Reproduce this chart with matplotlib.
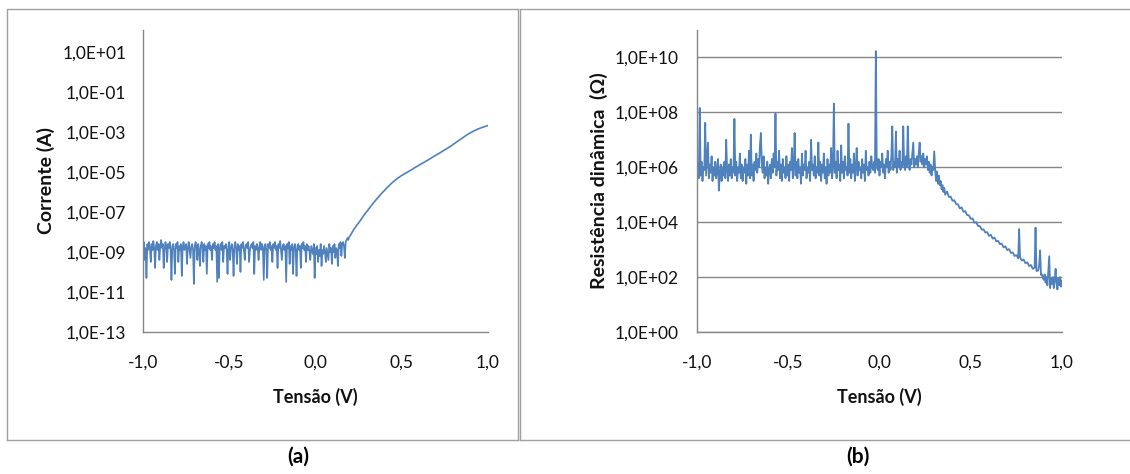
import numpy as np
import matplotlib
matplotlib.use("Agg")
import matplotlib.pyplot as plt
from matplotlib.lines import Line2D
from matplotlib.ticker import FixedLocator, FuncFormatter

plt.rcParams['font.family'] = ['Lato', 'DejaVu Sans']

# --- (a) corrente, log10(I / A) ---
# noise floor, sweep -1.0 .. 0.195 V in 5 mV steps
a_noise_log = [
    -8.7, -8.5, -9.4, -8.8, -10.3, -8.6, -8.9, -8.5, -8.8, -9.5,
    -8.6, -8.9, -8.45, -8.8, -9.8, -8.7, -8.5, -8.9, -8.6, -9.4,
    -8.7, -8.4, -8.8, -8.6, -9.8, -8.9, -8.5, -8.7, -9.5, -8.6,
    -8.8, -8.5, -8.9, -10.4, -8.7, -8.6, -8.9, -10.1, -8.6, -8.8,
    -8.5, -9.5, -8.7, -8.9, -8.6, -10.2, -8.8, -8.5, -8.9, -8.7,
    -8.6, -9.6, -8.8, -8.5, -8.9, -9.3, -8.7, -8.6, -8.9, -10.6,
    -8.7, -8.5, -8.8, -9.4, -8.6, -8.9, -9.7, -8.7, -8.5, -8.8,
    -9.5, -8.6, -8.9, -8.7, -10.1, -8.6, -8.8, -8.5, -8.9, -8.7,
    -9.4, -8.6, -8.8, -8.5, -8.9, -8.7, -10.5, -8.6, -10.3, -8.8,
    -8.6, -8.9, -8.5, -9.5, -8.7, -8.8, -8.6, -8.9, -10.1, -8.7,
    -8.5, -9.4, -8.8, -8.6, -8.9, -10.2, -8.7, -8.5, -8.8, -9.6,
    -8.6, -8.9, -8.7, -10.0, -8.6, -8.8, -8.5, -8.9, -9.4, -8.7,
    -8.6, -8.8, -8.5, -9.5, -8.9, -8.7, -8.6, -8.8, -8.5, -10.1,
    -8.7, -8.9, -8.6, -8.8, -9.4, -8.7, -8.5, -8.9, -8.6, -8.8,
    -10.4, -8.7, -8.6, -8.9, -10.3, -8.6, -8.8, -8.5, -8.9, -8.7,
    -9.5, -8.6, -8.8, -8.5, -8.9, -8.7, -9.8, -8.6, -8.8, -8.45,
    -8.9, -9.4, -8.7, -8.6, -8.9, -8.7, -10.5, -8.6, -8.8, -8.5,
    -9.6, -8.7, -8.9, -8.6, -10.1, -8.8, -8.6, -8.9, -10.2, -8.7,
    -8.6, -8.9, -8.7, -9.8, -8.6, -8.8, -8.5, -8.9, -8.7, -9.5,
    -8.6, -8.9, -8.7, -9.0, -9.4, -8.7, -8.9, -9.1, -8.6, -10.3,
    -8.8, -9.1, -8.7, -9.5, -8.9, -9.2, -8.6, -9.7, -8.9, -9.1,
    -8.7, -9.0, -9.5, -8.8, -9.1, -9.4, -8.6, -9.0, -8.8, -9.6,
    -8.7, -9.0, -8.6, -9.3, -8.8, -8.9, -9.7, -8.6, -8.8, -8.5,
    -9.2, -8.6, -8.5, -8.7, -9.3, -8.5, -8.4, -8.3, -8.4, -8.25,
]
# conduction branch
a_rise_v = [0.20, 0.21, 0.22, 0.23, 0.24, 0.25, 0.26, 0.27, 0.28, 0.29,
            0.30, 0.32, 0.34, 0.36, 0.38, 0.40, 0.42, 0.44, 0.46, 0.48,
            0.50, 0.52, 0.54, 0.56, 0.58, 0.60, 0.62, 0.64, 0.66, 0.68,
            0.70, 0.72, 0.74, 0.76, 0.78, 0.80, 0.82, 0.84, 0.86, 0.88,
            0.90, 0.92, 0.94, 0.96, 0.98, 1.00]
a_rise_log = [-8.2, -8.05, -7.9, -7.78, -7.65, -7.55, -7.42, -7.3, -7.17, -7.05,
              -6.95, -6.72, -6.5, -6.3, -6.1, -5.92, -5.74, -5.57, -5.42, -5.29,
              -5.17, -5.07, -4.97, -4.87, -4.76, -4.66, -4.56, -4.46, -4.36, -4.25,
              -4.15, -4.05, -3.94, -3.84, -3.73, -3.61, -3.49, -3.37, -3.25, -3.13,
              -3.03, -2.94, -2.86, -2.79, -2.73, -2.68]

# --- (b) resistencia dinamica, log10(R / ohm) ---
# sweep -1.0 .. 0.30 V in 5 mV steps
b_noise_log = [
    5.8, 6.1, 5.6, 8.16, 5.7, 6.2, 5.5, 6.0, 5.9, 7.62,
    5.7, 6.3, 6.9, 5.6, 6.1, 5.8, 6.4, 5.5, 6.0, 5.7,
    6.2, 5.6, 5.9, 6.3, 5.15, 5.8, 6.1, 5.5, 6.0, 5.7,
    6.2, 5.6, 7.0, 5.9, 5.5, 6.1, 5.7, 6.3, 5.6, 6.0,
    5.8, 7.76, 5.7, 6.2, 5.5, 6.0, 5.8, 6.5, 5.6, 6.1,
    5.5, 6.0, 5.8, 6.3, 5.4, 6.1, 5.7, 6.6, 5.6, 7.19,
    5.7, 6.1, 5.5, 6.2, 5.9, 6.5, 5.8, 6.3, 6.0, 6.8,
    7.25, 6.1, 5.8, 6.4, 5.6, 6.0, 5.7, 6.2, 5.4, 5.9,
    6.1, 5.6, 6.3, 5.8, 6.5, 6.0, 7.96, 5.7, 6.2, 5.9,
    6.6, 5.6, 6.1, 5.5, 6.3, 5.8, 6.0, 5.6, 6.4, 5.7,
    6.1, 5.5, 6.2, 5.9, 6.7, 5.6, 6.0, 7.25, 5.7, 6.2,
    5.6, 6.3, 5.8, 6.0, 5.4, 6.5, 5.7, 6.1, 5.9, 6.6,
    5.6, 6.0, 5.8, 6.2, 5.5, 7.0, 5.9, 6.1, 5.7, 6.4,
    5.6, 6.0, 5.8, 6.9, 5.7, 6.2, 5.5, 6.1, 5.8, 6.5,
    5.6, 6.0, 5.4, 6.3, 5.7, 6.1, 5.8, 6.7, 5.6, 6.0,
    8.32, 5.8, 6.2, 5.6, 6.6, 5.9, 6.1, 5.5, 6.8, 5.8,
    6.2, 5.6, 6.4, 5.9, 6.0, 5.7, 7.59, 5.8, 6.3, 5.6,
    6.1, 5.8, 6.5, 5.5, 6.0, 6.7, 5.7, 6.2, 5.9, 6.0,
    5.6, 6.3, 5.8, 6.1, 5.5, 6.6, 5.9, 6.0, 5.7, 6.2,
    5.8, 6.4, 6.0, 5.9, 6.2, 5.8, 10.23, 6.1, 5.9, 6.3,
    5.7, 6.2, 6.0, 6.5, 5.8, 6.1, 5.6, 6.3, 6.0, 6.6,
    5.8, 6.2, 5.9, 6.4, 7.49, 5.9, 6.2, 6.0, 7.3, 5.8,
    6.3, 6.0, 6.6, 5.9, 6.2, 6.0, 7.49, 6.1, 5.9, 6.4,
    6.0, 7.49, 6.2, 5.9, 6.3, 6.1, 6.5, 6.9, 6.0, 6.3,
    6.1, 6.4, 6.0, 6.5, 6.9, 6.2, 6.4, 6.1, 6.5, 6.0,
    6.3, 6.1, 6.4, 5.9, 6.2, 5.8, 6.1, 5.7, 6.0, 5.9,
    6.58,
]
b_decay_v = [0.305, 0.31, 0.315, 0.32, 0.325, 0.33, 0.335, 0.34, 0.345, 0.35,
             0.355, 0.36, 0.37, 0.38, 0.39, 0.40, 0.41, 0.42, 0.43, 0.44,
             0.45, 0.46, 0.47, 0.48, 0.49, 0.50, 0.51, 0.52, 0.53, 0.54,
             0.55, 0.56, 0.57, 0.58, 0.59, 0.60, 0.61, 0.62, 0.63, 0.64,
             0.65, 0.66, 0.67, 0.68, 0.69, 0.70, 0.71, 0.72, 0.73, 0.74,
             0.75, 0.76, 0.765, 0.77, 0.78, 0.79, 0.80, 0.81, 0.82, 0.83,
             0.84, 0.85, 0.855, 0.86, 0.87, 0.875, 0.88, 0.885, 0.89, 0.895,
             0.90, 0.905, 0.91, 0.915, 0.92, 0.925, 0.93, 0.935, 0.94, 0.945,
             0.95, 0.955, 0.96, 0.965, 0.97, 0.975, 0.98, 0.985, 0.99, 0.995,
             1.00]
b_decay_log = [5.9, 5.5, 5.85, 5.4, 5.7, 5.35, 5.5, 5.2, 5.35, 5.1,
               5.25, 5.0, 5.12, 4.92, 4.93, 4.78, 4.8, 4.66, 4.65, 4.5,
               4.54, 4.38, 4.4, 4.26, 4.25, 4.12, 4.14, 3.98, 4.0, 3.86,
               3.86, 3.73, 3.74, 3.62, 3.64, 3.5, 3.54, 3.4, 3.44, 3.3,
               3.32, 3.2, 3.22, 3.08, 3.12, 2.98, 3.02, 2.88, 2.9, 2.77,
               2.8, 2.68, 3.75, 2.72, 2.6, 2.64, 2.5, 2.54, 2.4, 2.44,
               2.3, 2.34, 3.8, 2.22, 2.24, 2.45, 2.97, 2.08, 2.1, 1.98,
               1.9, 2.1, 1.8, 2.0, 1.7, 2.2, 2.76, 1.6, 1.95, 1.75,
               2.0, 1.6, 1.9, 2.3, 1.75, 1.55, 1.95, 1.7, 2.0, 1.65,
               1.85]

x_ticks = [-1.0, -0.5, 0.0, 0.5, 1.0]
a_yticks_exp = [-13, -11, -9, -7, -5, -3, -1, 1]
b_yticks_exp = [0, 2, 4, 6, 8, 10]

LINE = "#4f81bd"
AXIS = "#868686"
W, H = 1130, 474


def px_axes(x0, y0, x1, y1):
    # pixel box (top-left origin) -> figure fraction rect
    return [x0 / W, 1 - y1 / H, (x1 - x0) / W, (y1 - y0) / H]


def style_axes(ax, exps, ylim_top, ylabel, label_x, ypad, grid):
    ax.set_yscale("log")
    ax.set_xlim(-1, 1)
    ax.set_ylim(10.0 ** exps[0], 10.0 ** ylim_top)
    ax.xaxis.set_major_locator(FixedLocator(x_ticks))
    ax.xaxis.set_major_formatter(FuncFormatter(lambda v, p: f"{v:.1f}".replace(".", ",")))
    ax.yaxis.set_major_locator(FixedLocator([10.0 ** e for e in exps]))
    ax.yaxis.set_major_formatter(FuncFormatter(
        lambda v, p: "1,0E{:+03d}".format(int(round(np.log10(v))))))
    ax.yaxis.set_minor_locator(FixedLocator([]))
    ax.tick_params(axis="both", length=0, labelsize=12.5, colors="#111111")
    ax.tick_params(axis="x", pad=16.5)
    ax.tick_params(axis="y", pad=ypad)
    for s in ("top", "right"):
        ax.spines[s].set_visible(False)
    for s in ("left", "bottom"):
        ax.spines[s].set_color(AXIS)
        ax.spines[s].set_linewidth(1.0)
    if grid:
        ax.grid(axis="y", color=AXIS, linewidth=1.0)
        ax.set_axisbelow(True)
    ax.set_xlabel("Tensão (V)", fontsize=13, fontweight="bold", color="#111111")
    ax.xaxis.set_label_coords(0.5, -0.185)
    ax.set_ylabel(ylabel, fontsize=14, fontweight="bold", color="#111111")
    ax.yaxis.set_label_coords(label_x, 0.5)


fig = plt.figure(figsize=(W / 100, H / 100), dpi=100)

# (a)
ax1 = fig.add_axes(px_axes(143, 30, 488, 332))
a_v = np.concatenate([np.linspace(-1.0, 0.195, len(a_noise_log)), a_rise_v])
a_i = 10.0 ** np.concatenate([a_noise_log, a_rise_log])
ax1.plot(a_v, a_i, color=LINE, linewidth=1.2)
style_axes(ax1, a_yticks_exp, 2.1, "Corrente (A)", -0.255, 12, grid=False)

# (b)
ax2 = fig.add_axes(px_axes(697, 30, 1062, 332))
b_v = np.concatenate([np.linspace(-1.0, 0.30, len(b_noise_log)), b_decay_v])
b_r = 10.0 ** np.concatenate([b_noise_log, b_decay_log])
ax2.plot(b_v, b_r, color=LINE, linewidth=1.3)
style_axes(ax2, b_yticks_exp, 11.0, "Resistência dinâmica  (Ω)", -0.244, 13.5, grid=True)

# chart-area borders
BOX = "#a0a0a0"
yb, yt = 1 - 440 / H, 1 - 9 / H
for (x0, x1) in [(7, 518), (520, 1131)]:
    fig.add_artist(Line2D([x0 / W, x0 / W, x1 / W], [yb, yt, yt], color=BOX, linewidth=1.0))
    fig.add_artist(Line2D([x0 / W, x1 / W], [yb, yb], color=BOX, linewidth=1.0))
fig.add_artist(Line2D([518 / W] * 2, [yb, yt], color=BOX, linewidth=1.0))

fig.text(298 / W, 1 - 457 / H, "(a)", ha="center", va="center", fontsize=15, fontweight="bold")
fig.text(858 / W, 1 - 457 / H, "(b)", ha="center", va="center", fontsize=15, fontweight="bold")

fig.savefig("out.png", dpi=100)
